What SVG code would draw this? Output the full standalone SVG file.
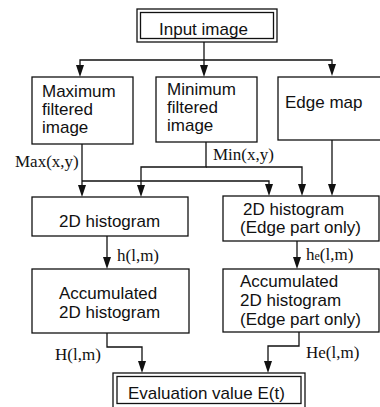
<svg xmlns="http://www.w3.org/2000/svg" width="380" height="407" viewBox="0 0 380 407">
<defs>
<style>
.box{fill:#fff;stroke:#111;stroke-width:1.3}
.t{font-family:"Liberation Sans",Arial,sans-serif;font-size:17px;fill:#111}
.l{font-family:"Liberation Serif","Times New Roman",serif;font-size:17px;fill:#111}
.c{fill:none;stroke:#111;stroke-width:1.3}
.ah{fill:#111}
</style>
</defs>
<rect width="380" height="407" fill="#fff"/>
<g id="connectors">
<path class="c" d="M204,42 V65"/>
<path class="c" d="M204,60 H80 V66"/>
<path class="c" d="M204,60 H332 V65"/>
<path class="c" d="M82,144 V186"/>
<path class="c" d="M82,181 H269 V185"/>
<path class="c" d="M206,142 V167 H141 V186"/>
<path class="c" d="M206,167 H302 V185"/>
<path class="c" d="M332,140 V185"/>
<path class="c" d="M107,236 V258"/>
<path class="c" d="M297,241 V258"/>
<path class="c" d="M107,333 V347 H142 V362"/>
<path class="c" d="M299,332 V346 H268 V362"/>
<path class="ah" d="M76,65 L84,65 L80,77 Z"/>
<path class="ah" d="M200,65 L208,65 L204,77 Z"/>
<path class="ah" d="M328,64 L336,64 L332,76 Z"/>
<path class="ah" d="M78,185 L86,185 L82,197 Z"/>
<path class="ah" d="M137,185 L145,185 L141,197 Z"/>
<path class="ah" d="M265,184 L273,184 L269,196 Z"/>
<path class="ah" d="M298,184 L306,184 L302,196 Z"/>
<path class="ah" d="M328,184 L336,184 L332,196 Z"/>
<path class="ah" d="M103,257 L111,257 L107,269 Z"/>
<path class="ah" d="M293,257 L301,257 L297,269 Z"/>
<path class="ah" d="M138,361 L146,361 L142,373 Z"/>
<path class="ah" d="M264,361 L272,361 L268,373 Z"/>
</g>
<g id="input">
<rect class="box" x="137" y="9" width="140" height="33"/>
<rect class="box" x="140.5" y="12.5" width="133" height="26"/>
<text class="t" x="159" y="35">Input image</text>
</g>
<g id="maxfilt">
<rect class="box" x="32" y="77" width="101" height="67"/>
<text class="t" x="42" y="97">Maximum</text>
<text class="t" x="42" y="115">filtered</text>
<text class="t" x="42" y="133">image</text>
</g>
<g id="minfilt">
<rect class="box" x="156" y="77" width="101" height="65"/>
<text class="t" x="167" y="95">Minimum</text>
<text class="t" x="167" y="113">filtered</text>
<text class="t" x="167" y="131">image</text>
</g>
<g id="edgemap">
<rect class="box" x="278" y="77" width="104" height="63"/>
<text class="t" x="285" y="108">Edge map</text>
</g>
<g id="hist">
<rect class="box" x="32" y="197" width="156" height="39"/>
<text class="t" x="59" y="227">2D histogram</text>
</g>
<g id="histedge">
<rect class="box" x="223" y="196" width="156" height="45"/>
<text class="t" x="243" y="215">2D histogram</text>
<text class="t" x="240" y="233">(Edge part only)</text>
</g>
<g id="acc">
<rect class="box" x="32" y="269" width="157" height="64"/>
<text class="t" x="59" y="299">Accumulated</text>
<text class="t" x="59" y="318">2D histogram</text>
</g>
<g id="accedge">
<rect class="box" x="223" y="269" width="156" height="63"/>
<text class="t" x="240" y="287">Accumulated</text>
<text class="t" x="240" y="306">2D histogram</text>
<text class="t" x="240" y="325">(Edge part only)</text>
</g>
<g id="eval">
<rect class="box" x="113" y="373" width="192" height="38"/>
<rect class="box" x="117" y="376.5" width="184" height="27"/>
<text class="t" x="128" y="399">Evaluation value E(t)</text>
</g>
<g id="labels">
<text class="l" x="15" y="167">Max(x,y)</text>
<text class="l" x="213" y="160">Min(x,y)</text>
<text class="l" x="117" y="261">h(l,m)</text>
<text class="l" x="306" y="260">h<tspan font-size="12">e</tspan>(l,m)</text>
<text class="l" x="55" y="360">H(l,m)</text>
<text class="l" x="306" y="358">He(l,m)</text>
</g>
</svg>
